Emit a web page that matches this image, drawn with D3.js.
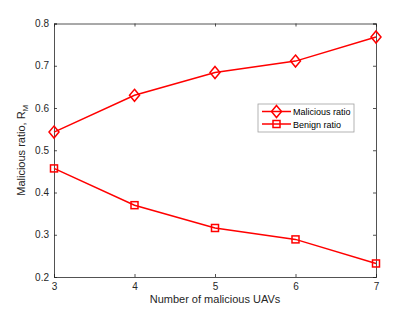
<!DOCTYPE html>
<html>
<head>
<meta charset="utf-8">
<script src="https://d3js.org/d3.v7.min.js"></script>
<style>
body{margin:0;background:#fff;}
text{font-family:"Liberation Sans",Arial,sans-serif;}
</style>
</head>
<body>
<div id="chart"></div>
<script>
var uavs = [3, 4, 5, 6, 7]
var malicious = [0.543, 0.630, 0.684, 0.711, 0.768]
var benign = [0.457, 0.370, 0.316, 0.289, 0.232]
var yTicks = [0.2, 0.3, 0.4, 0.5, 0.6, 0.7, 0.8]
var legendNames = ["Malicious ratio", "Benign ratio"]

var w = 415, h = 312
var m = {left: 54, right: 39, top: 23.5, bottom: 35}
var svg = d3.select("#chart").append("svg").attr("width", w).attr("height", h)

var x = d3.scaleLinear().domain([3, 7]).range([m.left, w - m.right])
var y = d3.scaleLinear().domain([0.2, 0.8]).range([h - m.bottom, m.top])
var axisColor = "#262626"

// box and ticks
var g = svg.append("g")
g.append("g").attr("transform", "translate(0," + y(0.2) + ")")
  .call(d3.axisBottom(x).tickValues(uavs).tickSize(-3).tickPadding(6).tickFormat(d3.format("d")))
g.append("g").attr("transform", "translate(0," + y(0.8) + ")")
  .call(d3.axisTop(x).tickValues(uavs).tickSize(-3).tickFormat(""))
g.append("g").attr("transform", "translate(" + x(3) + ",0)")
  .call(d3.axisLeft(y).tickValues(yTicks).tickSize(-3).tickPadding(5).tickFormat(d3.format(".1f")))
g.append("g").attr("transform", "translate(" + x(7) + ",0)")
  .call(d3.axisRight(y).tickValues(yTicks).tickSize(-3).tickFormat(""))
g.selectAll(".domain").attr("stroke", axisColor).attr("stroke-width", 0.8)
g.selectAll(".tick line").attr("stroke", axisColor).attr("stroke-width", 0.8)
g.selectAll(".tick text").attr("fill", axisColor).attr("font-size", "10px")
  .attr("font-family", "Liberation Sans, Arial, sans-serif")

svg.append("text").attr("x", (x(3) + x(7)) / 2).attr("y", 303)
  .attr("text-anchor", "middle").attr("font-size", "11px").attr("fill", axisColor)
  .text("Number of malicious UAVs")

var yl = svg.append("text").attr("transform", "translate(25," + ((y(0.2) + y(0.8)) / 2) + ") rotate(-90)")
  .attr("text-anchor", "middle").attr("font-size", "11px").attr("fill", axisColor)
yl.append("tspan").text("Malicious ratio, R")
yl.append("tspan").attr("font-size", "8px").attr("dy", 3).text("M")

var red = "#ff0000"
var line = d3.line().x(function(d, i){ return x(uavs[i]) }).y(function(d){ return y(d) })

function diamond(sel, cx, cy){
  sel.append("path").attr("d", "M" + cx + "," + (cy - 6) + "L" + (cx + 5) + "," + cy + "L" + cx + "," + (cy + 6) + "L" + (cx - 5) + "," + cy + "Z")
    .attr("fill", "none").attr("stroke", red).attr("stroke-width", 1.5)
}
function square(sel, cx, cy){
  sel.append("rect").attr("x", cx - 3.5).attr("y", cy - 3.5).attr("width", 7).attr("height", 7)
    .attr("fill", "none").attr("stroke", red).attr("stroke-width", 1.5)
}

svg.append("path").datum(malicious).attr("d", line).attr("fill", "none").attr("stroke", red).attr("stroke-width", 1.5)
svg.append("path").datum(benign).attr("d", line).attr("fill", "none").attr("stroke", red).attr("stroke-width", 1.5)
malicious.forEach(function(d, i){ diamond(svg, x(uavs[i]), y(d)) })
benign.forEach(function(d, i){ square(svg, x(uavs[i]), y(d)) })

// legend
var lg = svg.append("g").attr("transform", "translate(258,104)")
lg.append("rect").attr("width", 96).attr("height", 28).attr("fill", "#fff")
  .attr("stroke", "#a0a0a0").attr("stroke-width", 0.8)
legendNames.forEach(function(name, i){
  var ly = 7.5 + i * 12.5
  lg.append("line").attr("x1", 4).attr("x2", 33).attr("y1", ly).attr("y2", ly)
    .attr("stroke", red).attr("stroke-width", 1.5)
  if(i == 0) diamond(lg, 18.5, ly); else square(lg, 18.5, ly)
  lg.append("text").attr("x", 35).attr("y", ly + 3.5).attr("font-size", "9px").attr("fill", "#000").text(name)
})
</script>
</body>
</html>
